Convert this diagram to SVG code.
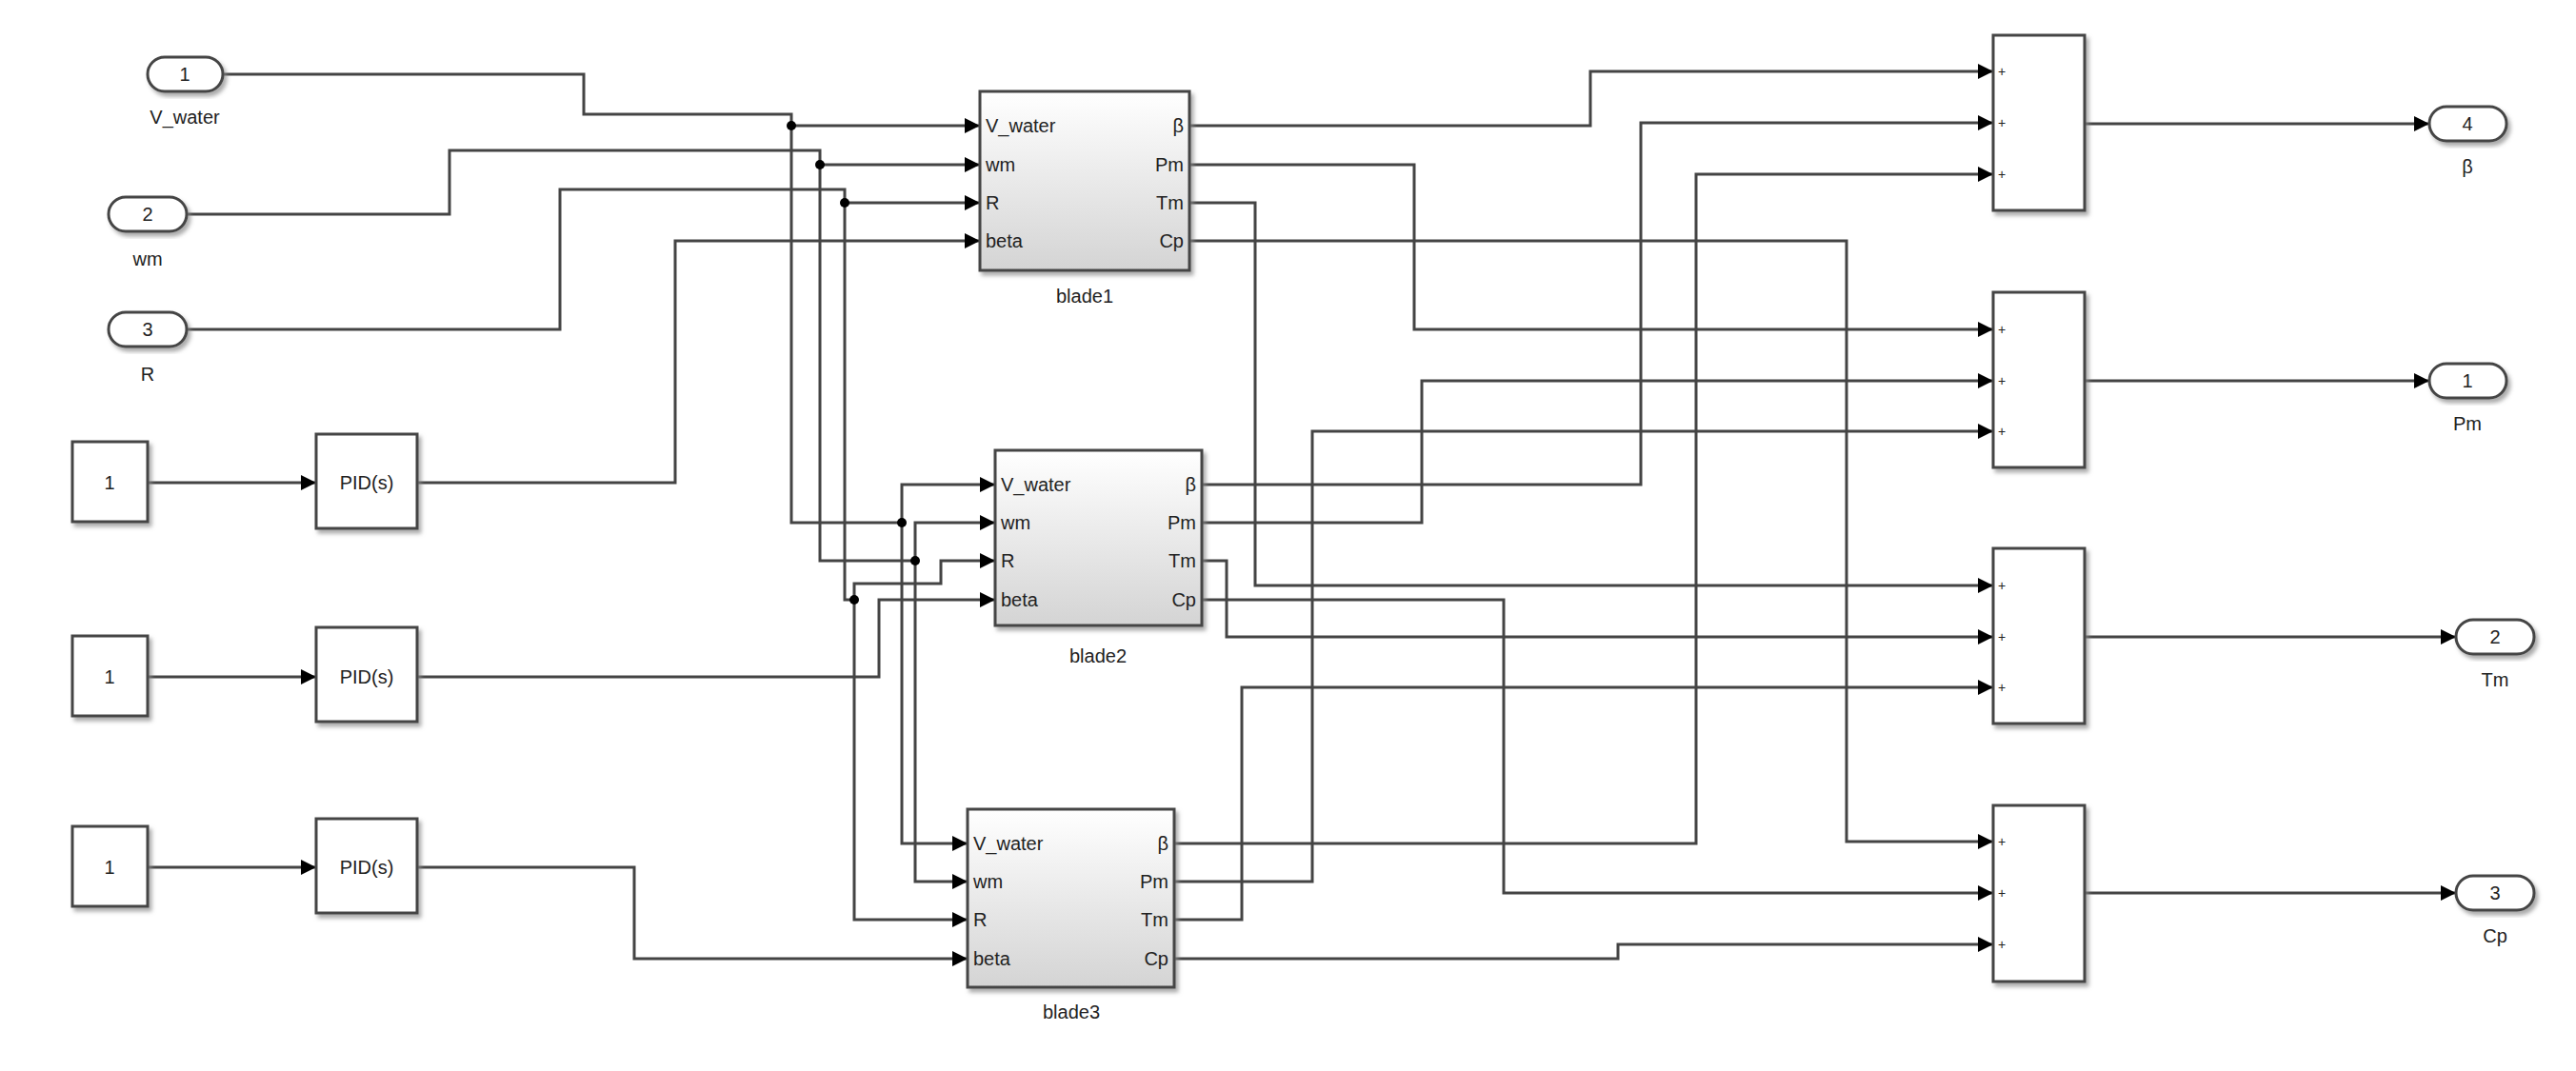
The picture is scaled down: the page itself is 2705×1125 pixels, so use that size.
<svg xmlns="http://www.w3.org/2000/svg" width="2705" height="1125" viewBox="0 0 2705 1125">
<defs>
<marker id="ar" markerUnits="userSpaceOnUse" markerWidth="18" markerHeight="18" refX="16" refY="9" orient="auto"><path d="M0,1 L16,9 L0,17 Z" fill="#000"/></marker>
<linearGradient id="bg" x1="0" y1="0" x2="0" y2="1"><stop offset="0" stop-color="#fff"/><stop offset="1" stop-color="#d4d4d4"/></linearGradient>
<filter id="sh" x="-10%" y="-10%" width="130%" height="130%"><feDropShadow dx="3" dy="4" stdDeviation="2" flood-color="#888" flood-opacity="0.7"/></filter>
</defs>
<style>
.b{fill:#fff;stroke:#444;stroke-width:3;filter:url(#sh)}
.bl{fill:url(#bg);stroke:#444;stroke-width:3;filter:url(#sh)}
.t{font-family:"Liberation Sans",Arial,sans-serif;font-size:20px;fill:#222}
.s{font-family:"Liberation Sans",Arial,sans-serif;font-size:14px;fill:#222}
.w{fill:none;stroke:#444;stroke-width:3}
.a{marker-end:url(#ar)}
.d{fill:#000}
</style>
<rect width="2705" height="1125" fill="#fff"/>
<g id="connectors">
<path class="w" d="M234,78 H613 V120 H831 V549 H947"/>
<path class="w a" d="M831,132 H1029"/>
<path class="w a" d="M947,549 V509 H1045"/>
<path class="w a" d="M947,549 V886 H1016"/>
<path class="w" d="M196,225 H472 V158 H861 V589 H961"/>
<path class="w a" d="M861,173 H1029"/>
<path class="w a" d="M961,589 V549 H1045"/>
<path class="w a" d="M961,589 V926 H1016"/>
<path class="w" d="M196,346 H588 V199 H887 V630 H897"/>
<path class="w a" d="M887,213 H1029"/>
<path class="w a" d="M897,630 V613 H988 V589 H1045"/>
<path class="w a" d="M897,630 V966 H1016"/>
<path class="w a" d="M438,507 H709 V253 H1029"/>
<path class="w a" d="M438,711 H923 V630 H1045"/>
<path class="w a" d="M438,911 H666 V1007 H1016"/>
<path class="w a" d="M155,507 H332"/>
<path class="w a" d="M155,711 H332"/>
<path class="w a" d="M155,911 H332"/>
<path class="w a" d="M1249,132 H1670 V75 H2093"/>
<path class="w a" d="M1249,173 H1485 V346 H2093"/>
<path class="w a" d="M1249,213 H1318 V615 H2093"/>
<path class="w a" d="M1249,253 H1939 V884 H2093"/>
<path class="w a" d="M1262,509 H1723 V129 H2093"/>
<path class="w a" d="M1262,549 H1493 V400 H2093"/>
<path class="w a" d="M1262,589 H1288 V669 H2093"/>
<path class="w a" d="M1262,630 H1579 V938 H2093"/>
<path class="w a" d="M1233,886 H1781 V183 H2093"/>
<path class="w a" d="M1233,926 H1378 V453 H2093"/>
<path class="w a" d="M1233,966 H1304 V722 H2093"/>
<path class="w a" d="M1233,1007 H1699 V992 H2093"/>
<path class="w a" d="M2189,130 H2551"/>
<path class="w a" d="M2189,400 H2551"/>
<path class="w a" d="M2189,669 H2579"/>
<path class="w a" d="M2189,938 H2579"/>
<circle class="d" cx="831" cy="132" r="5"/><circle class="d" cx="861" cy="173" r="5"/><circle class="d" cx="887" cy="213" r="5"/>
<circle class="d" cx="947" cy="549" r="5"/><circle class="d" cx="961" cy="589" r="5"/><circle class="d" cx="897" cy="630" r="5"/>
</g>
<g id="in1"><rect class="b" x="155" y="60" width="79" height="36" rx="18"/><text class="t" x="194" y="85" text-anchor="middle">1</text><text class="t" x="194" y="130" text-anchor="middle">V_water</text></g>
<g id="in2"><rect class="b" x="114" y="207" width="82" height="36" rx="18"/><text class="t" x="155" y="232" text-anchor="middle">2</text><text class="t" x="155" y="279" text-anchor="middle">wm</text></g>
<g id="in3"><rect class="b" x="114" y="328" width="82" height="36" rx="18"/><text class="t" x="155" y="353" text-anchor="middle">3</text><text class="t" x="155" y="400" text-anchor="middle">R</text></g>
<g id="c1"><rect class="b" x="76" y="464" width="79" height="84"/><text class="t" x="115" y="514" text-anchor="middle">1</text></g>
<g id="c2"><rect class="b" x="76" y="668" width="79" height="84"/><text class="t" x="115" y="718" text-anchor="middle">1</text></g>
<g id="c3"><rect class="b" x="76" y="868" width="79" height="84"/><text class="t" x="115" y="918" text-anchor="middle">1</text></g>
<g id="pid1"><rect class="b" x="332" y="456" width="106" height="99"/><text class="t" x="385" y="514" text-anchor="middle">PID(s)</text></g>
<g id="pid2"><rect class="b" x="332" y="659" width="106" height="99"/><text class="t" x="385" y="718" text-anchor="middle">PID(s)</text></g>
<g id="pid3"><rect class="b" x="332" y="860" width="106" height="99"/><text class="t" x="385" y="918" text-anchor="middle">PID(s)</text></g>
<g id="blade1"><rect class="bl" x="1029" y="96" width="220" height="188"/>
<text class="t" x="1035" y="139">V_water</text><text class="t" x="1035" y="180">wm</text><text class="t" x="1035" y="220">R</text><text class="t" x="1035" y="260">beta</text>
<text class="t" x="1243" y="139" text-anchor="end">β</text><text class="t" x="1243" y="180" text-anchor="end">Pm</text><text class="t" x="1243" y="220" text-anchor="end">Tm</text><text class="t" x="1243" y="260" text-anchor="end">Cp</text>
<text class="t" x="1139" y="318" text-anchor="middle">blade1</text></g>
<g id="blade2"><rect class="bl" x="1045" y="473" width="217" height="184"/>
<text class="t" x="1051" y="516">V_water</text><text class="t" x="1051" y="556">wm</text><text class="t" x="1051" y="596">R</text><text class="t" x="1051" y="637">beta</text>
<text class="t" x="1256" y="516" text-anchor="end">β</text><text class="t" x="1256" y="556" text-anchor="end">Pm</text><text class="t" x="1256" y="596" text-anchor="end">Tm</text><text class="t" x="1256" y="637" text-anchor="end">Cp</text>
<text class="t" x="1153" y="696" text-anchor="middle">blade2</text></g>
<g id="blade3"><rect class="bl" x="1016" y="850" width="217" height="187"/>
<text class="t" x="1022" y="893">V_water</text><text class="t" x="1022" y="933">wm</text><text class="t" x="1022" y="973">R</text><text class="t" x="1022" y="1014">beta</text>
<text class="t" x="1227" y="893" text-anchor="end">β</text><text class="t" x="1227" y="933" text-anchor="end">Pm</text><text class="t" x="1227" y="973" text-anchor="end">Tm</text><text class="t" x="1227" y="1014" text-anchor="end">Cp</text>
<text class="t" x="1125" y="1070" text-anchor="middle">blade3</text></g>
<g id="sum1"><rect class="b" x="2093" y="37" width="96" height="184"/><text class="s" x="2098" y="80">+</text><text class="s" x="2098" y="134">+</text><text class="s" x="2098" y="188">+</text></g>
<g id="sum2"><rect class="b" x="2093" y="307" width="96" height="184"/><text class="s" x="2098" y="351">+</text><text class="s" x="2098" y="405">+</text><text class="s" x="2098" y="458">+</text></g>
<g id="sum3"><rect class="b" x="2093" y="576" width="96" height="184"/><text class="s" x="2098" y="620">+</text><text class="s" x="2098" y="674">+</text><text class="s" x="2098" y="727">+</text></g>
<g id="sum4"><rect class="b" x="2093" y="846" width="96" height="185"/><text class="s" x="2098" y="889">+</text><text class="s" x="2098" y="943">+</text><text class="s" x="2098" y="997">+</text></g>
<g id="out4"><rect class="b" x="2551" y="112" width="81" height="36" rx="18"/><text class="t" x="2591" y="137" text-anchor="middle">4</text><text class="t" x="2591" y="182" text-anchor="middle">β</text></g>
<g id="out1"><rect class="b" x="2551" y="382" width="81" height="36" rx="18"/><text class="t" x="2591" y="407" text-anchor="middle">1</text><text class="t" x="2591" y="452" text-anchor="middle">Pm</text></g>
<g id="out2"><rect class="b" x="2579" y="651" width="82" height="36" rx="18"/><text class="t" x="2620" y="676" text-anchor="middle">2</text><text class="t" x="2620" y="721" text-anchor="middle">Tm</text></g>
<g id="out3"><rect class="b" x="2579" y="920" width="82" height="36" rx="18"/><text class="t" x="2620" y="945" text-anchor="middle">3</text><text class="t" x="2620" y="990" text-anchor="middle">Cp</text></g>
</svg>
